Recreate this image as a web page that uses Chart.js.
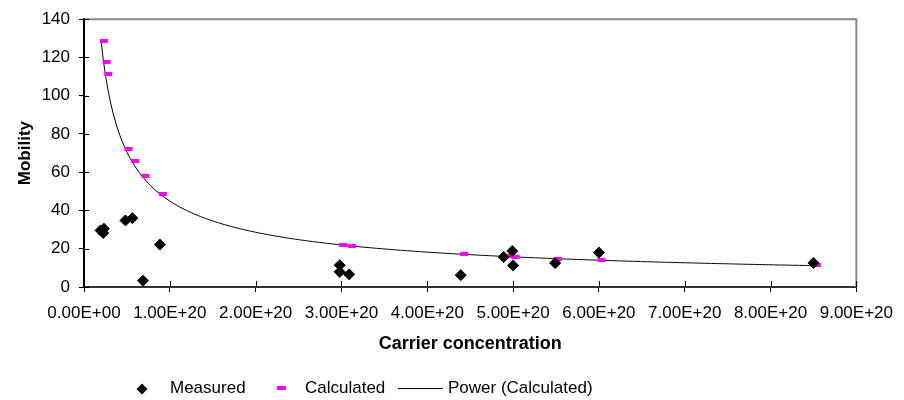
<!DOCTYPE html>
<html>
<head>
<meta charset="utf-8">
<script src="https://cdn.jsdelivr.net/npm/chart.js@4.4.1/dist/chart.umd.min.js"></script>
<style>
  html, body { margin: 0; padding: 0; background: #fff; }
  #wrap { width: 904px; height: 400px; }
</style>
</head>
<body>
<div id="wrap"><canvas id="myChart" width="904" height="400"></canvas></div>
<script>
// データ（キャリア濃度は E+20 単位で読み取り）
const measuredX = [0.193e20, 0.232e20, 0.224e20, 0.483e20, 0.564e20, 0.687e20, 0.884e20,
  2.98e20, 2.98e20, 3.09e20, 4.39e20, 4.89e20, 4.99e20, 5.00e20, 5.49e20, 6.00e20, 8.50e20];
const measuredY = [29.6, 30.5, 28.2, 34.8, 36.0, 3.3, 22.2,
  11.4, 7.9, 6.6, 6.2, 15.7, 18.8, 11.3, 12.5, 18.0, 12.6];

const calculatedX = [0.197e20, 0.228e20, 0.247e20, 0.483e20, 0.560e20, 0.683e20, 0.884e20,
  2.985e20, 3.085e20, 4.395e20, 4.945e20, 4.995e20, 5.485e20, 5.995e20, 8.505e20];
const calculatedY = [128.4, 117.7, 111.6, 72.3, 66.1, 57.8, 48.8,
  22.0, 21.3, 17.1, 16.1, 15.7, 14.7, 14.0, 11.3];

const xTicks = [0, 1e20, 2e20, 3e20, 4e20, 5e20, 6e20, 7e20, 8e20, 9e20];
const yTicks = [0, 20, 40, 60, 80, 100, 120, 140];

const FONT = "'Liberation Sans', Arial, sans-serif";

// 累乗近似（Calculated から最小二乗 log-log）
function powerFit(xs, ys) {
  const n = xs.length;
  let sx = 0, sy = 0, sxx = 0, sxy = 0;
  for (let i = 0; i < n; i++) {
    const lx = Math.log(xs[i]), ly = Math.log(ys[i]);
    sx += lx; sy += ly; sxx += lx * lx; sxy += lx * ly;
  }
  const b = (n * sxy - sx * sy) / (n * sxx - sx * sx);
  const a = Math.exp((sy - b * sx) / n);
  return { a, b };
}
const fit = powerFit(calculatedX, calculatedY);
const xMin = Math.min(...calculatedX), xMax = Math.max(...calculatedX);
const trend = [];
for (let i = 0; i <= 300; i++) {
  const x = xMin + (xMax - xMin) * i / 300;
  trend.push({ x: x, y: fit.a * Math.pow(x, fit.b) });
}

// マゼンタのダッシュ（Excel風に少し右寄り）
const dash = document.createElement('canvas');
dash.width = 16; dash.height = 4;
const dctx = dash.getContext('2d');
dctx.fillStyle = '#FF00FF';
dctx.fillRect(7, 0, 8, 4);

function sci(v) {
  if (Math.abs(v) < 1) return '0.00E+00';
  const e = Math.floor(Math.log10(Math.abs(v)) + 1e-9);
  const m = v / Math.pow(10, e);
  return m.toFixed(2) + 'E' + (e < 0 ? '-' : '+') + String(Math.abs(e)).padStart(2, '0');
}

// プロットエリアの枠（上・右）と内側の目盛り
const frame = {
  id: 'frame',
  beforeDatasetsDraw(chart) {
    const { ctx, chartArea: a, scales } = chart;
    ctx.save();
    ctx.strokeStyle = '#888888';
    ctx.lineWidth = 2;
    ctx.beginPath();
    ctx.moveTo(a.left, a.top);
    ctx.lineTo(a.right, a.top);
    ctx.lineTo(a.right, a.bottom);
    ctx.stroke();
    ctx.strokeStyle = '#000';
    ctx.lineWidth = 1;
    ctx.beginPath();
    xTicks.forEach(v => {
      const px = Math.round(scales.x.getPixelForValue(v)) + 0.5;
      ctx.moveTo(px, a.bottom); ctx.lineTo(px, a.bottom - 6);
    });
    yTicks.forEach(v => {
      const py = Math.round(scales.y.getPixelForValue(v)) + 0.5;
      ctx.moveTo(a.left, py); ctx.lineTo(a.left + 5, py);
    });
    ctx.stroke();
    ctx.restore();
  }
};

// 凡例
const legendBottom = {
  id: 'legendBottom',
  afterDraw(chart) {
    const ctx = chart.ctx;
    const y = 389;
    ctx.save();
    ctx.fillStyle = '#000';
    ctx.beginPath();
    ctx.moveTo(136.5, y); ctx.lineTo(142, y - 5.5); ctx.lineTo(147.5, y); ctx.lineTo(142, y + 5.5);
    ctx.closePath();
    ctx.fill();
    ctx.fillStyle = '#FF00FF';
    ctx.fillRect(277, y - 3, 9, 4);
    ctx.strokeStyle = '#000';
    ctx.lineWidth = 1;
    ctx.beginPath();
    ctx.moveTo(398, y - 0.5); ctx.lineTo(443, y - 0.5);
    ctx.stroke();
    ctx.fillStyle = '#000';
    ctx.font = '17px ' + FONT;
    ctx.textBaseline = 'middle';
    ctx.textAlign = 'left';
    ctx.fillText('Measured', 170, y - 1);
    ctx.fillText('Calculated', 305, y - 1);
    ctx.fillText('Power (Calculated)', 448, y - 1);
    ctx.restore();
  }
};

const data = {
  datasets: [{
    label: 'Measured',
    data: measuredX.map((x, i) => ({ x: x, y: measuredY[i] })),
    pointStyle: 'rectRot',
    pointRadius: 5.5,
    pointBorderWidth: 1,
    backgroundColor: '#000',
    borderColor: '#000',
    order: 1
  },
  {
    label: 'Calculated',
    data: calculatedX.map((x, i) => ({ x: x, y: calculatedY[i] })),
    pointStyle: dash,
    pointRadius: 4,
    order: 2
  },
  {
    label: 'Power (Calculated)',
    data: trend,
    showLine: true,
    pointRadius: 0,
    borderColor: '#000',
    borderWidth: 1,
    order: 3
  }]
};

const config = {
  type: 'scatter',
  data: data,
  options: {
    responsive: false,
    animation: false,
    layout: { padding: { left: 0, right: 42, top: 17, bottom: 40 } },
    plugins: {
      legend: { display: false },
      tooltip: { enabled: false }
    },
    scales: {
      x: {
        type: 'linear',
        min: xTicks[0],
        max: xTicks[xTicks.length - 1],
        afterBuildTicks(scale) { scale.ticks = xTicks.map(v => ({ value: v })); },
        afterFit(scale) { scale.height = 73; },
        border: { color: '#333', width: 2 },
        grid: { drawOnChartArea: false, drawTicks: true, tickLength: 5, tickColor: '#000', tickWidth: 1 },
        ticks: {
          autoSkip: false, maxRotation: 0, padding: 11,
          color: '#000', font: { family: FONT, size: 17 },
          callback: (v) => sci(v)
        },
        title: {
          display: true, text: 'Carrier concentration', color: '#000',
          font: { family: FONT, size: 18, weight: 'bold' },
          padding: { top: 0, bottom: 5 }
        }
      },
      y: {
        min: yTicks[0],
        max: yTicks[yTicks.length - 1],
        afterBuildTicks(scale) { scale.ticks = yTicks.map(v => ({ value: v })); },
        afterFit(scale) { scale.width = 84; },
        border: { color: '#000', width: 2 },
        grid: { drawOnChartArea: false, drawTicks: true, tickLength: 5, tickColor: '#000', tickWidth: 1 },
        ticks: { padding: 9, color: '#000', font: { family: FONT, size: 17 } },
        title: {
          display: true, text: 'Mobility', color: '#000',
          font: { family: FONT, size: 17, weight: 'bold' },
          padding: { top: 15, bottom: 0 }
        }
      }
    }
  },
  plugins: [frame, legendBottom]
};

const myChart = new Chart(document.getElementById('myChart'), config);
</script>
</body>
</html>
